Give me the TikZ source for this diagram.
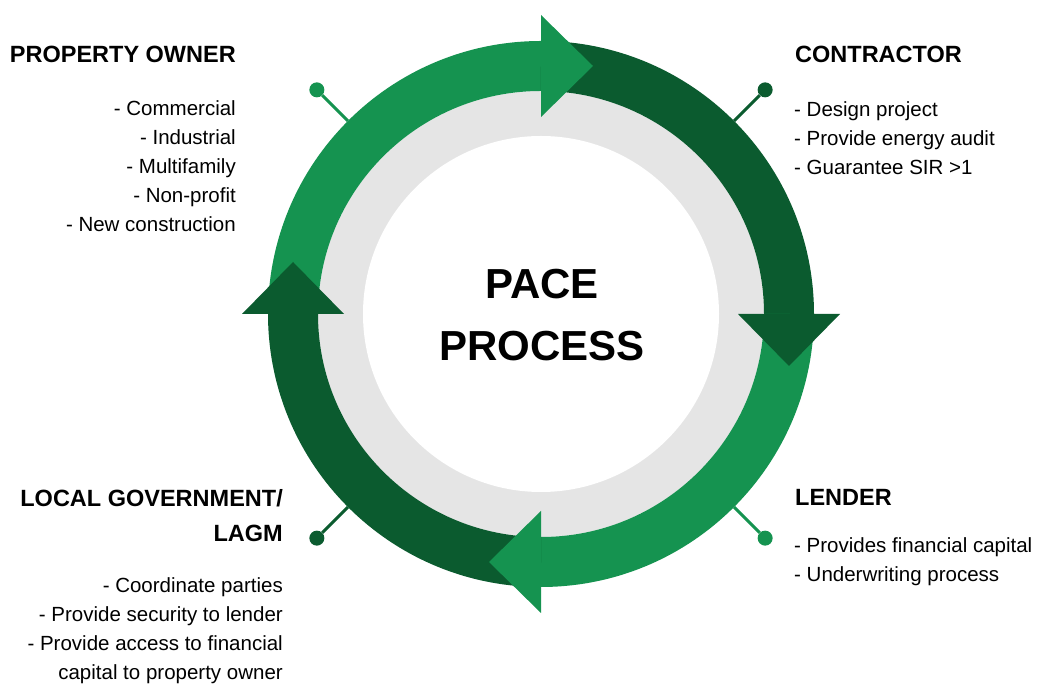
\documentclass[tikz,border=0pt]{standalone}
\usepackage{fontspec}
\setmainfont{Liberation Sans}
\usetikzlibrary{positioning,calc}
\definecolor{pacelight}{RGB}{21,147,80}
\definecolor{pacedark}{RGB}{11,91,47}
\definecolor{pacegray}{RGB}{229,229,229}

\begin{document}
\begin{tikzpicture}[x=1pt, y=1pt,
  band/.style={line width=50pt},
  head/.style={font=\fontsize{23.5}{35}\selectfont\bfseries, inner sep=0pt},
  items/.style={font=\fontsize{20.5}{29}\selectfont, inner sep=0pt},
  pin/.style={circle, fill=#1, minimum size=15pt, inner sep=0pt},
  stem/.style={line width=3pt}]
\useasboundingbox (0,0) rectangle (1037,685);
\coordinate (c) at (541,371);
\fill[pacegray] (c) circle[radius=223];
\fill[white] (c) circle[radius=178];
\foreach \a/\col in {180/pacelight, 90/pacedark, 0/pacelight, -90/pacedark}
  \draw[band, \col] ($(c)+(\a:248)$) arc[start angle=\a, end angle=\a-90, radius=248];
\foreach \a/\col in {90/pacelight, 0/pacedark, -90/pacelight, 180/pacedark}
  \fill[\col] ($(c)+(\a:197)$) -- ($(c)+(\a:299)$) -- ($(c)+(\a:248)+(\a-90:52)$) -- cycle;
\foreach \a/\col/\n in {135/pacelight/po, 45/pacedark/co, -45/pacelight/le, -135/pacedark/lg} {
  \coordinate (\n r) at ($(c)+(\a:273)$);
  \node[pin=\col] (\n p) at ($(c)+(\a:317)$) {};
  \draw[stem, \col] (\n r) -- (\n p);
}
\node[font=\fontsize{42}{62}\selectfont\bfseries, align=center] (title) at (542,370) {PACE\\PROCESS};

\node[head, anchor=base east] (owner) at (236,622) {PROPERTY OWNER};
\node[items, anchor=base east, align=right] (owneritems) at (236,453.5)
  {- Commercial\\- Industrial\\- Multifamily\\- Non-profit\\- New construction};
\node[head, anchor=base west] (contractor) at (795,622) {CONTRACTOR};
\node[items, anchor=base west, align=left] (contractoritems) at (794,510)
  {- Design project\\- Provide energy audit\\- Guarantee SIR >1};
\node[head, anchor=base east, align=right] (gov) at (283,143) {LOCAL GOVERNMENT/\\LAGM};
\node[items, anchor=base east, align=right] (govitems) at (283,5)
  {- Coordinate parties\\- Provide security to lender\\- Provide access to financial\\capital to property owner};
\node[head, anchor=base west] (lender) at (795,179) {LENDER};
\node[items, anchor=base west, align=left] (lenderitems) at (794,103)
  {- Provides financial capital\\- Underwriting process};
\end{tikzpicture}
\end{document}
